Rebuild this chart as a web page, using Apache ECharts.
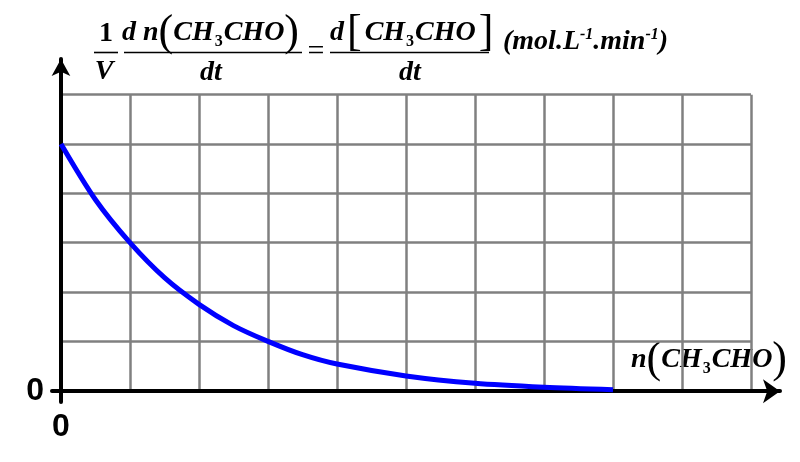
<!DOCTYPE html>
<html><head><meta charset="utf-8">
<script src="https://cdn.jsdelivr.net/npm/echarts@6/dist/echarts.min.js"></script>
<style>html,body{margin:0;padding:0;background:#fff}#c{width:800px;height:462px}</style>
</head><body><div id="c"></div>
<script>
// ---- data ----
const nValues    = [0, 0.5, 1, 1.5, 2, 2.5, 3, 3.5, 4, 5, 6, 7, 8];
const rateValues = [5, 3.87, 3, 2.29, 1.75, 1.32, 1.0, 0.73, 0.54, 0.3, 0.15, 0.07, 0.02];
const xTickLabels = ['0'];
const yTickLabels = ['0'];

const serif = 'Liberation Serif';
const sans = 'Liberation Sans';
const chart = echarts.init(document.getElementById('c'), null, {renderer: 'canvas'});

const FS = 28;
const bi = {fontFamily: serif, fontWeight: 'bold', fontStyle: 'italic', fontSize: FS, color: '#000'};
const sub = {fontFamily: serif, fontWeight: 'bold', fontSize: 16, color: '#000', padding: [18, 1, 0, 1]};
const par = {fontFamily: serif, fontWeight: 'normal', fontSize: 44, color: '#000'};

function txt(x, y, text, extra) {
  return {type: 'text', x: x, y: y, style: Object.assign({text: text, textVerticalAlign: 'middle', textAlign: 'left'}, extra)};
}
function bar(x1, x2, y) {
  return {type: 'line', shape: {x1: x1, y1: y, x2: x2, y2: y}, style: {stroke: '#000', lineWidth: 1.6}};
}

const graphics = [
  txt(106, 34, '1', {fontFamily: serif, fontWeight: 'bold', fontSize: FS, fill: '#000', textAlign: 'center'}),
  txt(104, 72, 'V', {fontFamily: serif, fontWeight: 'bold', fontStyle: 'italic', fontSize: FS, fill: '#000', textAlign: 'center'}),
  bar(94, 118, 52.5),
  {type: 'text', x: 122, y: 33, style: {
    text: '{a|d n}{p|(}{a|CH}{s|3}{a|CHO}{p|)}', textVerticalAlign: 'middle',
    rich: {a: bi, s: sub, p: par}}},
  bar(124, 302, 52.5),
  txt(211, 73, 'dt', {fontFamily: serif, fontWeight: 'bold', fontStyle: 'italic', fontSize: FS, fill: '#000', textAlign: 'center'}),
  txt(316, 52, '=', {fontFamily: serif, fontWeight: 'normal', fontSize: 30, fill: '#000', textAlign: 'center'}),
  {type: 'text', x: 330, y: 33, style: {
    text: '{a|d}{p|[}{a|CH}{s|3}{a|CHO}{p|]}', textVerticalAlign: 'middle',
    rich: {a: bi, s: sub, p: Object.assign({}, par, {padding: [0, 3, 0, 3]})}}},
  bar(330, 489, 52.5),
  txt(410, 73, 'dt', {fontFamily: serif, fontWeight: 'bold', fontStyle: 'italic', fontSize: FS, fill: '#000', textAlign: 'center'}),
  {type: 'text', x: 503, y: 42, style: {
    text: '{u|(mol.L}{e|-1}{u|.min}{e|-1}{u|)}', textVerticalAlign: 'middle',
    rich: {
      u: {fontFamily: serif, fontWeight: 'bold', fontStyle: 'italic', fontSize: 28, color: '#000'},
      e: {fontFamily: serif, fontWeight: 'bold', fontStyle: 'italic', fontSize: 16, color: '#000', padding: [0, 0, 14, 0]}
    }}},
  {type: 'text', x: 631, y: 360, style: {
    text: '{a|n}{p|(}{a|CH}{s|3}{a|CHO}{p|)}', textVerticalAlign: 'middle',
    rich: {a: bi, s: sub, p: par}}}
];

const option = {
  animation: false,
  backgroundColor: '#fff',
  grid: [
    {left: 61, right: 49, top: 94.7, bottom: 71.3},
    {left: 52, right: 20, top: 59, bottom: 60}
  ],
  xAxis: [
    {type: 'value', gridIndex: 0, min: 0, max: 10, interval: 1,
      axisLine: {show: false}, axisTick: {show: false}, axisLabel: {show: false},
      splitLine: {show: true, lineStyle: {color: '#808080', width: 2.5}}},
    {type: 'value', gridIndex: 1, min: -0.13, max: 10.42,
      axisLine: {show: true, onZero: true, symbol: ['none', 'arrow'], symbolSize: [18, 17],
        lineStyle: {color: '#000', width: 4}},
      axisTick: {show: false}, splitLine: {show: false},
      axisLabel: {show: true, margin: 9, fontFamily: sans, fontWeight: 'bold', fontSize: 32, color: '#000',
        formatter: function (v) { return v === 0 ? xTickLabels[0] : ''; }}}
  ],
  yAxis: [
    {type: 'value', gridIndex: 0, min: 0, max: 6, interval: 1,
      axisLine: {show: false}, axisTick: {show: false}, axisLabel: {show: false},
      splitLine: {show: true, lineStyle: {color: '#808080', width: 2.5}}},
    {type: 'value', gridIndex: 1, min: -0.22, max: 6.73,
      axisLine: {show: true, onZero: true, symbol: ['none', 'arrow'], symbolSize: [14, 17],
        lineStyle: {color: '#000', width: 4}},
      axisTick: {show: false}, splitLine: {show: false},
      axisLabel: {show: true, margin: 8, fontFamily: sans, fontWeight: 'bold', fontSize: 32, color: '#000',
        formatter: function (v) { return v === 0 ? yTickLabels[0] : ''; }}}
  ],
  series: [{
    type: 'line', xAxisIndex: 0, yAxisIndex: 0,
    data: nValues.map((n, i) => [n, rateValues[i]]),
    smooth: 0.3, showSymbol: false, clip: false, z: 5,
    lineStyle: {color: '#0000ff', width: 5}
  }],
  graphic: graphics
};
chart.setOption(option);
</script></body></html>
